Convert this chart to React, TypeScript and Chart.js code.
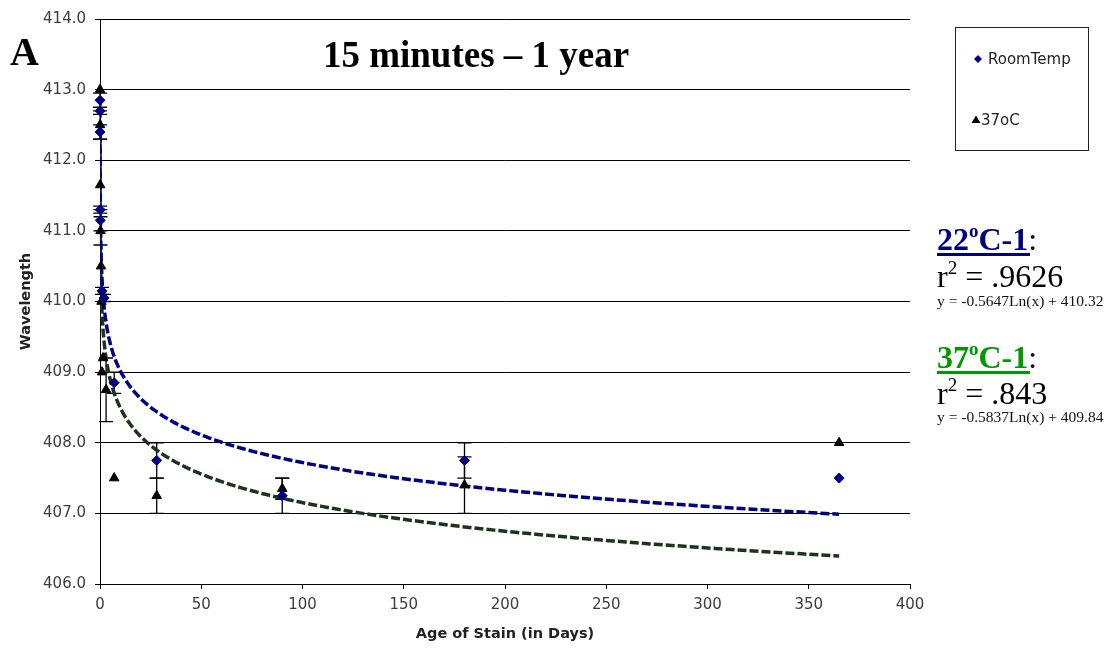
import React, { useEffect, useRef } from "react";
import { Chart, registerables } from "chart.js";

Chart.register(...registerables);

// Stain age in days and measured Soret-band wavelength (nm)
const roomTempDays = [0.0104, 0.0208, 0.0417, 0.0833, 0.1667, 1, 2, 7, 28, 90, 180, 365];
const roomTempWavelength = [412.85, 412.7, 412.4, 411.3, 411.15, 410.15, 410.05, 408.85, 407.75, 407.25, 407.75, 407.5];
const roomTempError = [0.1, 0.05, 0.1, 0.05, 0.15, 0.05, 0.05, 0.15, 0.25, 0.25, 0.25, 0];

const warmDays = [0.0104, 0.0417, 0.0833, 0.25, 0.5, 0.75, 1, 1.5, 3, 7, 28, 90, 180, 365];
const warmWavelength = [413.0, 412.5, 411.65, 411.0, 410.5, 410.0, 409.0, 409.2, 408.75, 407.5, 407.25, 407.35, 407.4, 408.0];
const warmError = [0, 0.2, 0, 0.2, 0, 0, 0, 0, 0.45, 0, 0.25, 0.15, 0.4, 0];

// Logarithmic fits: y = slope * ln(x) + intercept
const roomTempFit = { slope: -0.5647, intercept: 410.32, r2: ".9626" };
const warmFit = { slope: -0.5837, intercept: 409.84, r2: ".843" };

const xTickStep = 50;
const yTickStep = 1;

const NAVY = "#000080";
const GREEN = "#009900";
const CHART_FONT = "'DejaVu Sans', 'Liberation Sans', Arial, sans-serif";
const SERIF = "'Liberation Serif', 'Times New Roman', serif";

const toPoints = (xs: number[], ys: number[]) => xs.map((x, i) => ({ x, y: ys[i] }));

const fitCurve = (fit: { slope: number; intercept: number }, from: number, to: number) => {
  const pts: { x: number; y: number }[] = [];
  const n = 400;
  for (let i = 0; i <= n; i++) {
    const x = from * Math.pow(to / from, i / n);
    pts.push({ x, y: fit.slope * Math.log(x) + fit.intercept });
  }
  return pts;
};

const equationText = (fit: { slope: number; intercept: number }) =>
  `y = ${fit.slope.toFixed(4)}Ln(x) + ${fit.intercept.toFixed(2)}`;

// Vertical error bars with caps, drawn beneath the markers
const errorBarPlugin = {
  id: "errorBars",
  beforeDatasetsDraw(chart: any) {
    const { ctx, scales } = chart;
    const xs = scales.x;
    const ys = scales.y;
    ctx.save();
    ctx.strokeStyle = "#000";
    ctx.lineWidth = 1.3;
    chart.data.datasets.forEach((ds: any) => {
      if (!ds.errorBars) return;
      ds.data.forEach((p: { x: number; y: number }, i: number) => {
        const e = ds.errorBars[i];
        if (!e) return;
        const px = xs.getPixelForValue(p.x);
        const top = ys.getPixelForValue(p.y + e);
        const bot = ys.getPixelForValue(p.y - e);
        ctx.beginPath();
        ctx.moveTo(px, top);
        ctx.lineTo(px, bot);
        ctx.moveTo(px - 7, top);
        ctx.lineTo(px + 7, top);
        ctx.moveTo(px - 7, bot);
        ctx.lineTo(px + 7, bot);
        ctx.stroke();
      });
    });
    ctx.restore();
  },
};

export default function App() {
  const canvasRef = useRef<HTMLCanvasElement | null>(null);

  useEffect(() => {
    const canvas = canvasRef.current;
    if (!canvas) return;
    const minDay = Math.min(...roomTempDays, ...warmDays);
    const maxDay = Math.max(...roomTempDays, ...warmDays);
    const tickFont = { family: CHART_FONT, size: 15 };
    const titleFont = { family: CHART_FONT, size: 14.5, weight: "bold" as const };

    const chart = new Chart(canvas, {
      type: "scatter",
      data: {
        datasets: [
          {
            label: "RoomTemp",
            data: toPoints(roomTempDays, roomTempWavelength),
            pointStyle: "rectRot",
            pointRadius: 5,
            backgroundColor: NAVY,
            borderColor: NAVY,
            borderWidth: 1,
            showLine: false,
            clip: false,
            errorBars: roomTempError,
          } as any,
          {
            label: "37oC",
            data: toPoints(warmDays, warmWavelength),
            pointStyle: "triangle",
            pointRadius: 5.5,
            backgroundColor: "#000",
            borderColor: "#000",
            borderWidth: 1,
            showLine: false,
            clip: false,
            errorBars: warmError,
          } as any,
          {
            label: "RoomTemp log fit",
            data: fitCurve(roomTempFit, minDay, maxDay),
            showLine: true,
            pointRadius: 0,
            borderColor: NAVY,
            borderWidth: 3.5,
            borderDash: [9, 3],
            tension: 0,
          },
          {
            label: "37oC log fit",
            data: fitCurve(warmFit, minDay, maxDay),
            showLine: true,
            pointRadius: 0,
            borderColor: "#1d331d",
            borderWidth: 3.5,
            borderDash: [9, 3],
            tension: 0,
          },
        ],
      },
      options: {
        animation: false,
        responsive: false,
        maintainAspectRatio: false,
        layout: { padding: { left: 18, right: 207, top: 19, bottom: 5 } },
        plugins: { legend: { display: false }, tooltip: { enabled: false } },
        scales: {
          x: {
            type: "linear",
            min: 0,
            max: 400,
            ticks: { stepSize: xTickStep, font: tickFont, color: "#3c3c3c", padding: 7, maxRotation: 0 },
            grid: { drawOnChartArea: false, tickLength: 5, color: "#000" },
            border: { color: "#000", width: 1 },
            title: { display: true, text: "Age of Stain (in Days)", font: titleFont, color: "#222", padding: 0 },
            afterFit: (s: any) => {
              s.height = 59;
            },
          },
          y: {
            min: 406,
            max: 414,
            ticks: {
              stepSize: yTickStep,
              font: tickFont,
              color: "#3c3c3c",
              padding: 9,
              callback: (v: any) => Number(v).toFixed(1),
            },
            grid: { color: "#000", lineWidth: 1, tickLength: 5 },
            border: { color: "#000", width: 1 },
            title: { display: true, text: "Wavelength", font: titleFont, color: "#222", padding: 0 },
            afterFit: (s: any) => {
              s.width = 82;
            },
          },
        },
      },
      plugins: [errorBarPlugin],
    });
    return () => chart.destroy();
  }, []);

  return (
    <div style={{ position: "absolute", left: 0, top: 0, width: 1117, height: 648, background: "#fff" }}>
      <canvas
        ref={canvasRef}
        width={1117}
        height={648}
        style={{ position: "absolute", left: 0, top: 0, width: 1117, height: 648, display: "block" }}
      />
      <svg
        width={1117}
        height={648}
        style={{ position: "absolute", left: 0, top: 0, pointerEvents: "none" }}
      >
        <text x={10} y={65} fontFamily={SERIF} fontWeight="bold" fontSize={40} fill="#000">
          A
        </text>
        <text x={476} y={67} textAnchor="middle" fontFamily={SERIF} fontWeight="bold" fontSize={37} fill="#000">
          15 minutes – 1 year
        </text>

        {/* legend */}
        <rect x={955.5} y={27.5} width={133} height={123} fill="#fff" stroke="#222" strokeWidth={1} />
        <polygon points="978,55 982,59 978,63 974,59" fill={NAVY} />
        <text x={988} y={64} fontFamily={CHART_FONT} fontSize={15} fill="#222">
          RoomTemp
        </text>
        <polygon points="976,115.5 980.5,123 971.5,123" fill="#000" />
        <text x={981} y={125} fontFamily={CHART_FONT} fontSize={15} fill="#222">
          37oC
        </text>

        {/* fit summaries */}
        <text x={937} y={250} fontFamily={SERIF} fontSize={32} fontWeight="bold" fill={NAVY}>
          22<tspan dy={-13} fontSize={19}>o</tspan>
          <tspan dy={13}>C-1</tspan>
          <tspan fill="#111" fontWeight="normal">:</tspan>
        </text>
        <rect x={937} y={253} width={93} height={3} fill={NAVY} />
        <text x={937} y={287} fontFamily={SERIF} fontSize={32} fill="#000">
          r<tspan dy={-13} fontSize={19}>2</tspan>
          <tspan dy={13}>{` = ${roomTempFit.r2}`}</tspan>
        </text>
        <text x={937} y={306} fontFamily={SERIF} fontSize={15.5} fill="#111">
          {equationText(roomTempFit)}
        </text>

        <text x={937} y={368} fontFamily={SERIF} fontSize={32} fontWeight="bold" fill={GREEN}>
          37<tspan dy={-13} fontSize={19}>o</tspan>
          <tspan dy={13}>C-1</tspan>
          <tspan fill="#111" fontWeight="normal">:</tspan>
        </text>
        <rect x={937} y={371} width={93} height={3} fill={GREEN} />
        <text x={937} y={404} fontFamily={SERIF} fontSize={32} fill="#000">
          r<tspan dy={-13} fontSize={19}>2</tspan>
          <tspan dy={13}>{` = ${warmFit.r2}`}</tspan>
        </text>
        <text x={937} y={422} fontFamily={SERIF} fontSize={15.5} fill="#111">
          {equationText(warmFit)}
        </text>
      </svg>
    </div>
  );
}
